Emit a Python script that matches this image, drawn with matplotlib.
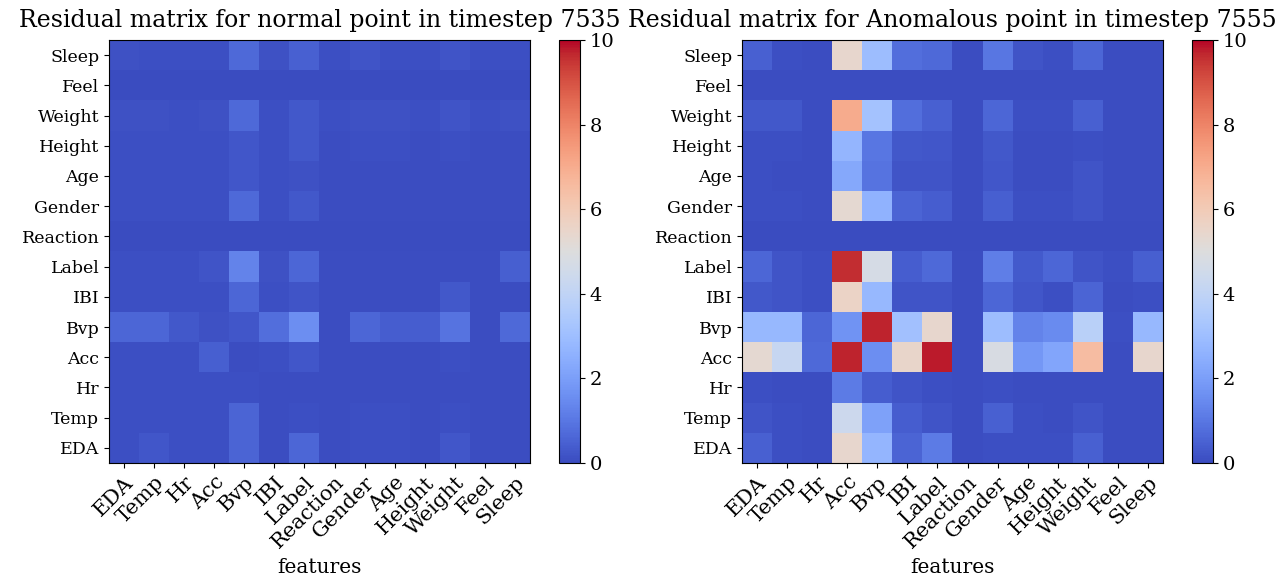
import numpy as np
import matplotlib
matplotlib.use("Agg")
import matplotlib.pyplot as plt

plt.rcParams['font.family'] = ['DejaVu Serif']

features = ["EDA", "Temp", "Hr", "Acc", "Bvp", "IBI", "Label", "Reaction",
            "Gender", "Age", "Height", "Weight", "Feel", "Sleep"]
rows_top_down = features[::-1]

# residuals, rows listed from top (Sleep) to bottom (EDA), columns in features order
normal_7535 = [
    [0.15, 0.1, 0.1, 0.1, 0.7, 0.15, 0.5, 0.1, 0.2, 0.1, 0.1, 0.2, 0.1, 0.1],
    [0.02, 0.02, 0.02, 0.02, 0.02, 0.02, 0.02, 0.02, 0.02, 0.02, 0.02, 0.02, 0.02, 0.02],
    [0.15, 0.15, 0.1, 0.15, 0.7, 0.1, 0.3, 0.1, 0.15, 0.15, 0.1, 0.2, 0.1, 0.15],
    [0.1, 0.1, 0.1, 0.1, 0.25, 0.1, 0.3, 0.05, 0.1, 0.1, 0.05, 0.1, 0.05, 0.05],
    [0.1, 0.1, 0.1, 0.1, 0.25, 0.1, 0.15, 0.05, 0.05, 0.05, 0.05, 0.05, 0.05, 0.05],
    [0.1, 0.1, 0.1, 0.1, 0.7, 0.1, 0.3, 0.05, 0.05, 0.05, 0.05, 0.05, 0.05, 0.05],
    [0.02, 0.02, 0.02, 0.02, 0.02, 0.02, 0.02, 0.02, 0.02, 0.02, 0.02, 0.02, 0.02, 0.02],
    [0.1, 0.1, 0.1, 0.2, 1.3, 0.15, 0.6, 0.05, 0.05, 0.05, 0.05, 0.05, 0.05, 0.45],
    [0.1, 0.1, 0.1, 0.1, 0.6, 0.1, 0.2, 0.05, 0.05, 0.05, 0.05, 0.3, 0.05, 0.05],
    [0.6, 0.6, 0.3, 0.15, 0.25, 0.8, 1.6, 0.05, 0.6, 0.4, 0.4, 0.9, 0.05, 0.7],
    [0.1, 0.1, 0.1, 0.45, 0.05, 0.1, 0.25, 0.05, 0.05, 0.05, 0.05, 0.1, 0.05, 0.05],
    [0.1, 0.1, 0.1, 0.1, 0.1, 0.05, 0.05, 0.05, 0.05, 0.05, 0.05, 0.05, 0.05, 0.05],
    [0.1, 0.1, 0.1, 0.1, 0.55, 0.05, 0.1, 0.05, 0.1, 0.1, 0.05, 0.1, 0.05, 0.05],
    [0.1, 0.25, 0.1, 0.1, 0.55, 0.05, 0.6, 0.05, 0.1, 0.1, 0.05, 0.25, 0.05, 0.05],
]

anomalous_7555 = [
    [0.5, 0.1, 0.05, 5.4, 3.0, 0.8, 0.7, 0.05, 1.0, 0.2, 0.1, 0.6, 0.05, 0.05],
    [0.05, 0.05, 0.05, 0.05, 0.05, 0.05, 0.05, 0.05, 0.05, 0.05, 0.05, 0.05, 0.05, 0.05],
    [0.3, 0.3, 0.05, 7.0, 3.2, 0.8, 0.5, 0.05, 0.6, 0.1, 0.1, 0.5, 0.05, 0.05],
    [0.1, 0.1, 0.05, 2.7, 1.0, 0.3, 0.25, 0.05, 0.3, 0.05, 0.05, 0.1, 0.05, 0.05],
    [0.1, 0.05, 0.05, 2.3, 0.9, 0.2, 0.2, 0.05, 0.25, 0.05, 0.05, 0.2, 0.05, 0.05],
    [0.1, 0.1, 0.05, 5.3, 2.6, 0.55, 0.4, 0.05, 0.45, 0.1, 0.1, 0.2, 0.05, 0.05],
    [0.02, 0.02, 0.02, 0.02, 0.02, 0.02, 0.02, 0.02, 0.02, 0.02, 0.02, 0.02, 0.02, 0.02],
    [0.6, 0.2, 0.1, 9.6, 4.7, 0.4, 0.7, 0.05, 1.2, 0.35, 0.6, 0.2, 0.1, 0.45],
    [0.3, 0.2, 0.1, 5.6, 2.8, 0.2, 0.2, 0.05, 0.6, 0.25, 0.1, 0.55, 0.05, 0.1],
    [2.8, 2.8, 0.6, 1.7, 9.7, 3.1, 5.4, 0.05, 3.0, 1.3, 1.5, 3.8, 0.1, 2.8],
    [5.3, 4.2, 0.7, 9.7, 1.6, 5.5, 9.8, 0.05, 4.8, 1.8, 2.2, 6.5, 0.05, 5.4],
    [0.1, 0.05, 0.05, 1.1, 0.4, 0.2, 0.1, 0.05, 0.1, 0.05, 0.05, 0.05, 0.05, 0.05],
    [0.2, 0.1, 0.05, 4.4, 2.1, 0.4, 0.2, 0.05, 0.5, 0.1, 0.05, 0.2, 0.05, 0.05],
    [0.5, 0.1, 0.05, 5.4, 2.7, 0.55, 1.1, 0.05, 0.1, 0.1, 0.1, 0.5, 0.05, 0.05],
]

W, H = 1284, 581
fig = plt.figure(figsize=(W / 100, H / 100), dpi=100)


def panel(mat, title, ax_left, cb_left):
    ax = fig.add_axes([ax_left / W, 1 - 463 / H, 421 / W, 423 / H])
    cax = fig.add_axes([cb_left / W, 1 - 463 / H, 21 / W, 423 / H])
    im = ax.imshow(np.array(mat), cmap='coolwarm', vmin=0, vmax=10, aspect='auto')
    ax.set_xticks(range(len(features)))
    ax.set_xticklabels(features, rotation=45, ha='right', rotation_mode='anchor',
                       fontsize=15)
    ax.set_yticks(range(len(rows_top_down)))
    ax.set_yticklabels(rows_top_down, fontsize=12.5)
    ax.set_xlabel("features", fontsize=14.5)
    ax.set_title(title, fontsize=17, pad=9)
    cb = fig.colorbar(im, cax=cax)
    cb.set_ticks([0, 2, 4, 6, 8, 10])
    cb.ax.tick_params(labelsize=14)
    return ax


panel(normal_7535, "Residual matrix for normal point in timestep 7535", 109, 559)
panel(anomalous_7555, "Residual matrix for Anomalous point in timestep 7555", 742, 1192)

fig.savefig("out.png", dpi=100)
